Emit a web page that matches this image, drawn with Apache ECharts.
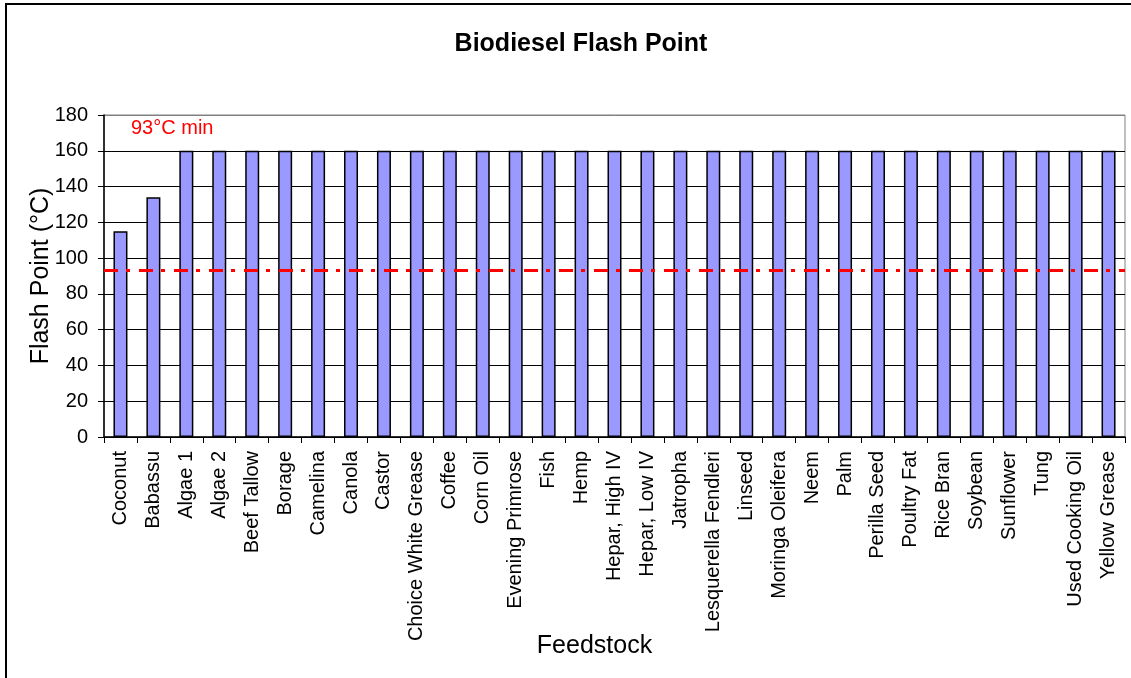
<!DOCTYPE html>
<html>
<head>
<meta charset="utf-8">
<script src="https://cdn.jsdelivr.net/npm/echarts@6/dist/echarts.min.js"></script>
<style>
  html, body { margin: 0; padding: 0; background: #fff; }
  #chart { width: 1131px; height: 678px; }
</style>
</head>
<body>
<div id="chart"></div>
<script>
// feedstock names
var feedstocks = ['Coconut', 'Babassu', 'Algae 1', 'Algae 2', 'Beef Tallow', 'Borage', 'Camelina', 'Canola', 'Castor',
    'Choice White Grease', 'Coffee', 'Corn Oil', 'Evening Primrose', 'Fish', 'Hemp', 'Hepar, High IV', 'Hepar, Low IV',
    'Jatropha', 'Lesquerella Fendleri', 'Linseed', 'Moringa Oleifera', 'Neem', 'Palm', 'Perilla Seed', 'Poultry Fat',
    'Rice Bran', 'Soybean', 'Sunflower', 'Tung', 'Used Cooking Oil', 'Yellow Grease'];
// flash point, degC
var flashPoint = [115, 134, 160, 160, 160, 160, 160, 160, 160, 160, 160, 160, 160, 160, 160, 160, 160,
    160, 160, 160, 160, 160, 160, 160, 160, 160, 160, 160, 160, 160, 160];
// spec minimum
var specMin = 93;
var specLabel = '93°C min';

var myChart = echarts.init(document.getElementById('chart'));
var font = 'Liberation Sans, Arial, sans-serif';

var option = {
    animation: false,
    backgroundColor: '#fff',
    title: {
        text: 'Biodiesel Flash Point',
        left: 576,
        textAlign: 'center',
        top: 27,
        textStyle: { fontFamily: font, fontSize: 25, fontWeight: 'bold', color: '#000' }
    },
    grid: {
        left: 104, right: 6, top: 115, bottom: 241,
        show: true, borderColor: '#808080', borderWidth: 1
    },
    graphic: [
        {
            type: 'polyline',
            shape: { points: [[6, 678], [6, 4], [1131, 4]] },
            style: { stroke: '#000', lineWidth: 2, fill: null }
        },
        {
            type: 'text',
            left: 131, top: 118,
            style: { text: specLabel, fill: '#ff0000', font: '20px ' + font }
        }
    ],
    xAxis: {
        type: 'category',
        data: feedstocks,
        name: 'Feedstock',
        nameLocation: 'middle',
        nameGap: 197,
        nameMoveOverlap: false,
        nameTextStyle: { fontFamily: font, fontSize: 25, color: '#000', padding: [0, 40, 0, 0] },
        axisLine: { lineStyle: { color: '#000', width: 1.5 } },
        axisTick: { show: true, length: 6, lineStyle: { color: '#000' } },
        axisLabel: { interval: 0, rotate: 90, margin: 14, fontFamily: font, fontSize: 20, color: '#000' }
    },
    yAxis: {
        type: 'value',
        min: 0, max: 180, interval: 20,
        name: 'Flash Point (°C)',
        nameLocation: 'middle',
        nameGap: 50,
        nameMoveOverlap: false,
        nameTextStyle: { fontFamily: font, fontSize: 25, color: '#000' },
        axisLine: { show: true, lineStyle: { color: '#000', width: 1.5 } },
        axisTick: { show: true, length: 6, lineStyle: { color: '#000' } },
        axisLabel: { margin: 16, fontFamily: font, fontSize: 20, color: '#000' },
        splitLine: { show: true, lineStyle: { color: ['#000', '#000', '#000', '#000', '#000', '#000', '#000', '#000', '#000', '#808080'], width: 1 } }
    },
    series: [
        {
            name: 'Flash Point',
            type: 'bar',
            data: flashPoint,
            barWidth: 14,
            itemStyle: { color: '#9999ff', borderColor: '#000', borderWidth: 1.5 },
            markLine: {
                silent: true,
                symbol: 'none',
                label: { show: false },
                lineStyle: { color: '#ff0000', width: 3, type: [14, 8, 4, 9] },
                data: [{ yAxis: specMin }]
            }
        }
    ]
};
myChart.setOption(option);
</script>
</body>
</html>
